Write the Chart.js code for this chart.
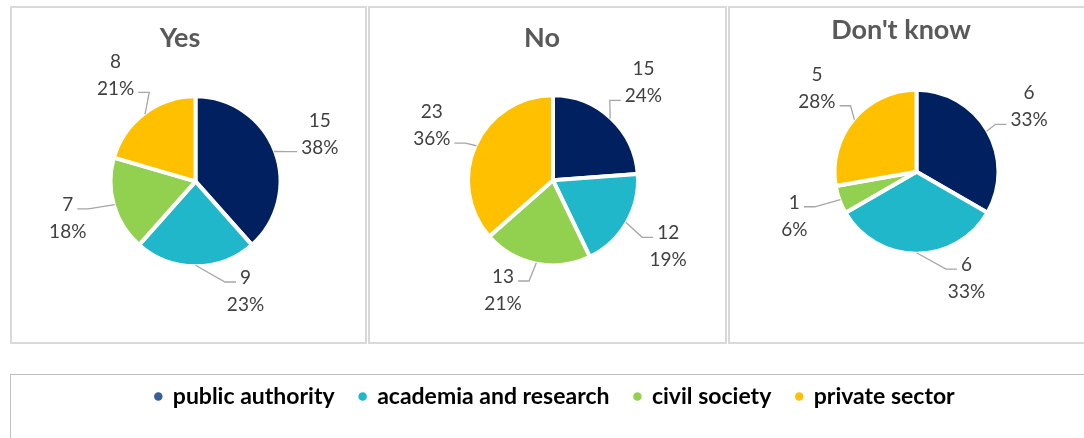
<!DOCTYPE html>
<html>
<head>
<meta charset="utf-8">
<script src="https://cdn.jsdelivr.net/npm/chart.js@4.4.1/dist/chart.umd.min.js"></script>
<style>
  html, body { margin: 0; padding: 0; background: #fff; overflow: hidden; }
  body { width: 1084px; height: 438px; position: relative; }
  .painel { position: absolute; box-sizing: border-box; top: 6px; height: 338px; border: 2px solid #d9d9d9; }
  #p1 { left: 10px; width: 357px; }
  #p2 { left: 368px; width: 359px; }
  #p3 { left: 728px; width: 362px; }
  #legenda { position: absolute; box-sizing: border-box; left: 10px; top: 374px; width: 1090px; height: 130px; border: 1px solid #bfbfbf; }
  #graficoLegenda { position: absolute; left: 0; top: -17px; }
  canvas { display: block; }
</style>
</head>
<body>
<div class="painel" id="p1"><canvas id="graficoSim" width="353" height="334"></canvas></div>
<div class="painel" id="p2"><canvas id="graficoNao" width="355" height="334"></canvas></div>
<div class="painel" id="p3"><canvas id="graficoNaoSei" width="358" height="334"></canvas></div>
<div id="legenda"><canvas id="graficoLegenda" width="1088" height="130"></canvas></div>
<script>
// Dados das respostas por tipo de organização
const categorias = ['public authority', 'academia and research', 'civil society', 'private sector'];
const titulos = ['Yes', 'No', "Don't know"];
const valoresSim = [15, 9, 7, 8];
const valoresNao = [15, 12, 13, 23];
const valoresNaoSei = [6, 6, 1, 5];

const cores = ['#002060', '#1fb7c9', '#92d050', '#ffc000'];
const coresLegenda = ['#3a5e96', '#1fb7c9', '#92d050', '#ffc000'];

// Percentuais inteiros que somam 100 (método do maior resto)
function percentuais(valores) {
  const total = valores.reduce((a, b) => a + b, 0);
  const brutos = valores.map(v => v / total * 100);
  const inteiros = brutos.map(Math.floor);
  const falta = 100 - inteiros.reduce((a, b) => a + b, 0);
  brutos.map((v, i) => ({ i, resto: v - inteiros[i] }))
    .sort((a, b) => b.resto - a.resto)
    .slice(0, falta)
    .forEach(r => inteiros[r.i]++);
  return inteiros;
}

// Desloca a área da pizza na horizontal sem mexer no título
const deslocarPizza = {
  id: 'deslocarPizza',
  afterLayout(chart, args, opts) {
    const dx = opts.dx || 0;
    chart.chartArea.left += dx;
    chart.chartArea.right += dx;
  }
};

// Rótulos fora da pizza (valor + percentual) com linha de chamada
const rotulosExternos = {
  id: 'rotulosExternos',
  afterDatasetsDraw(chart) {
    const ctx = chart.ctx;
    const meta = chart.getDatasetMeta(0);
    const valores = chart.data.datasets[0].data;
    const pct = percentuais(valores);
    const alturaLinha = 27;
    ctx.save();
    ctx.font = '19px Lato';
    ctx.textAlign = 'center';
    ctx.textBaseline = 'middle';
    meta.data.forEach((arco, i) => {
      const { x, y, startAngle, endAngle, outerRadius } =
        arco.getProps(['x', 'y', 'startAngle', 'endAngle', 'outerRadius'], true);
      const meio = (startAngle + endAngle) / 2;
      const ux = Math.cos(meio);
      const uy = Math.sin(meio);
      const dist = outerRadius + 48;
      let dx = ux * dist;
      let dy = uy * dist;
      // rótulos embaixo/em cima são empurrados para o lado
      const minDx = 50;
      if (Math.abs(dx) < minDx) {
        dx = (dx >= -0.5 ? 1 : -1) * minDx;
        dy = Math.sign(uy) * Math.sqrt(Math.max((dist - 12) ** 2 - minDx ** 2, 0));
      }
      const lx = x + dx;
      const ly = y + dy;
      const linhas = [String(valores[i]), pct[i] + '%'];

      // linha de chamada: liga a borda da fatia à linha de texto mais próxima
      const idx = dy < 0 ? 1 : 0;
      const yTexto = ly + (idx === 0 ? -alturaLinha / 2 : alturaLinha / 2);
      const larg = ctx.measureText(linhas[idx]).width;
      const direita = dx > 0;
      const ax = direita ? lx - larg / 2 - 4 : lx + larg / 2 + 4;
      const bx = direita ? ax - 11 : ax + 11;
      const yl = yTexto + 4;
      const px = x + ux * (outerRadius - 1);
      const py = y + uy * (outerRadius - 1);
      ctx.strokeStyle = '#a6a6a6';
      ctx.lineWidth = 1.3;
      ctx.beginPath();
      ctx.moveTo(px, py);
      ctx.lineTo(bx, yl);
      ctx.lineTo(ax, yl);
      ctx.stroke();

      ctx.fillStyle = '#404040';
      ctx.fillText(linhas[0], lx, ly - alturaLinha / 2);
      ctx.fillText(linhas[1], lx, ly + alturaLinha / 2);
    });
    ctx.restore();
  }
};

function criarPizza(idCanvas, titulo, valores, ajuste) {
  return new Chart(document.getElementById(idCanvas), {
    type: 'pie',
    data: {
      labels: categorias,
      datasets: [{
        data: valores,
        backgroundColor: cores,
        borderColor: '#ffffff',
        borderWidth: 4,
        radius: ajuste.raio,
        hoverOffset: 0
      }]
    },
    options: {
      responsive: false,
      animation: false,
      events: [],
      layout: { padding: ajuste.padding },
      plugins: {
        legend: { display: false },
        tooltip: { enabled: false },
        title: {
          display: true,
          text: titulo,
          color: '#595959',
          font: { family: 'Lato', size: 27, weight: 'bold', lineHeight: 1.2 },
          padding: { top: ajuste.tituloTopo, bottom: 8 }
        },
        deslocarPizza: { dx: ajuste.dx }
      }
    },
    plugins: [deslocarPizza, rotulosExternos]
  });
}

criarPizza('graficoSim', titulos[0], valoresSim, {
  raio: 85, tituloTopo: 13.8, dx: 15.5,
  padding: { left: 0, right: 17, top: 0, bottom: 41.6 }
});
criarPizza('graficoNao', titulos[1], valoresNao, {
  raio: 85, tituloTopo: 13.8, dx: 11,
  padding: { left: 0, right: 11, top: 0, bottom: 43.6 }
});
criarPizza('graficoNaoSei', titulos[2], valoresNaoSei, {
  raio: 82, tituloTopo: 5.8, dx: 15.5,
  padding: { left: 0, right: 16, top: 0, bottom: 52.6 }
});

// Legenda comum às três pizzas (dataset oculto, só a legenda aparece)
new Chart(document.getElementById('graficoLegenda'), {
  type: 'pie',
  data: {
    labels: categorias,
    datasets: [{
      data: categorias.map((_, i) => valoresSim[i] + valoresNao[i] + valoresNaoSei[i]),
      backgroundColor: coresLegenda,
      borderWidth: 0,
      hidden: true
    }]
  },
  options: {
    responsive: false,
    animation: false,
    events: [],
    layout: { padding: { top: 2 } },
    plugins: {
      tooltip: { enabled: false },
      legend: {
        position: 'top',
        labels: {
          usePointStyle: true,
          pointStyle: 'circle',
          boxWidth: 6,
          boxHeight: 6,
          padding: 25,
          color: '#000000',
          font: { family: 'Lato', size: 23, weight: 'bold' }
        }
      }
    }
  }
});
</script>
</body>
</html>
